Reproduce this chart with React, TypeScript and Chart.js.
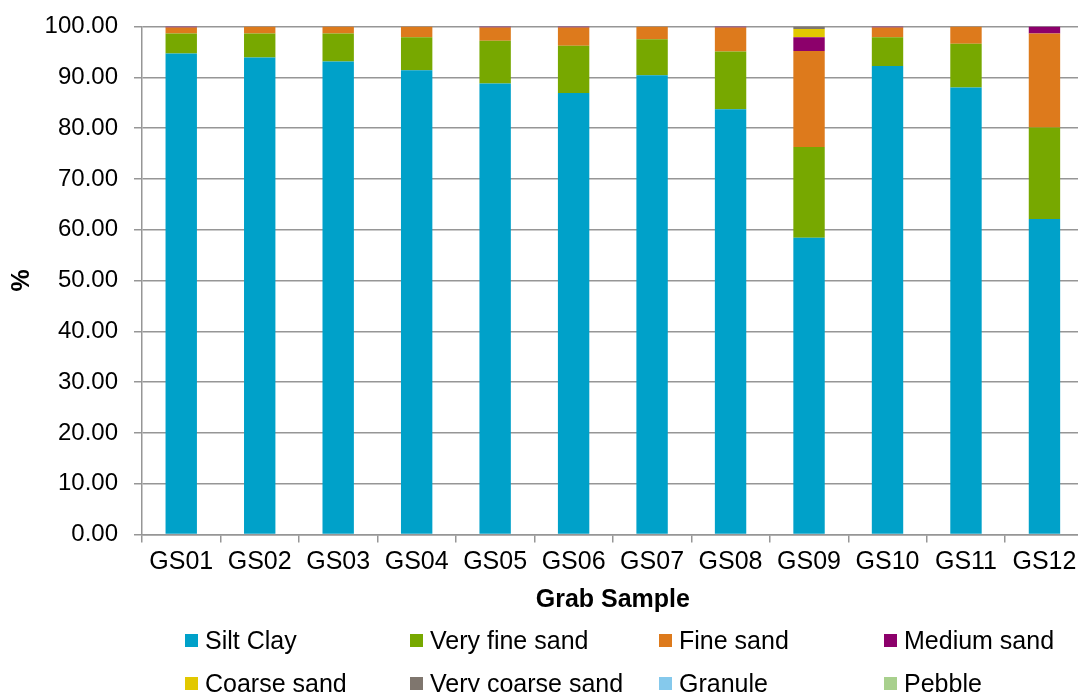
import React, { useEffect, useRef } from "react";
import { Chart, registerables } from "chart.js";
Chart.register(...registerables);

const categories = ["GS01", "GS02", "GS03", "GS04", "GS05", "GS06", "GS07", "GS08", "GS09", "GS10", "GS11", "GS12"];
const siltClay = [94.7, 93.9, 93.1, 91.4, 88.8, 86.9, 90.4, 83.7, 58.4, 92.2, 88.0, 62.1];
const veryFineSand = [3.9, 4.7, 5.5, 6.5, 8.4, 9.3, 7.1, 11.4, 17.9, 5.7, 8.6, 18.0];
const fineSand = [1.2, 1.4, 1.4, 2.1, 2.6, 3.6, 2.5, 4.7, 18.9, 1.9, 3.4, 18.5];
const mediumSand = [0.2, 0, 0, 0, 0.2, 0.2, 0, 0.2, 2.7, 0.2, 0, 1.4];
const coarseSand = [0, 0, 0, 0, 0, 0, 0, 0, 1.6, 0, 0, 0];
const veryCoarseSand = [0, 0, 0, 0, 0, 0, 0, 0, 0.5, 0, 0, 0];
const granule = [0, 0, 0, 0, 0, 0, 0, 0, 0, 0, 0, 0];
const pebble = [0, 0, 0, 0, 0, 0, 0, 0, 0, 0, 0, 0];

const seriesNames = ["Silt Clay", "Very fine sand", "Fine sand", "Medium sand", "Coarse sand", "Very coarse sand", "Granule", "Pebble"];
const seriesValues = [siltClay, veryFineSand, fineSand, mediumSand, coarseSand, veryCoarseSand, granule, pebble];
const seriesColors = ["#00A1C9", "#77A800", "#DD7A1C", "#8C006B", "#E2C800", "#7F766E", "#85C9EC", "#A8D08D"];

const FONT = "'Liberation Sans', Arial, sans-serif";
const GRID = "#969696";

const legendCols = [185, 410, 659, 884];
const legendRows = [640, 683];

export default function App() {
  const ref = useRef<HTMLCanvasElement | null>(null);
  useEffect(() => {
    if (!ref.current) return;
    const chart = new Chart(ref.current, {
      type: "bar",
      data: {
        labels: categories,
        datasets: seriesNames.map((n, i) => ({
          label: n,
          data: seriesValues[i],
          backgroundColor: seriesColors[i],
          borderWidth: 0,
          barPercentage: 0.4,
          categoryPercentage: 1.0,
        })),
      },
      options: {
        responsive: false,
        animation: false,
        devicePixelRatio: 1,
        layout: { padding: { left: 0, right: 6.3, top: 26.5, bottom: 73.5 } },
        plugins: { legend: { display: false }, tooltip: { enabled: false } },
        scales: {
          x: {
            stacked: true,
            grid: { drawOnChartArea: false, drawTicks: true, tickLength: 8, color: GRID, lineWidth: 1.5 },
            border: { color: GRID, width: 1.5 },
            ticks: { color: "#000", font: { family: FONT, size: 25 }, padding: 5, maxRotation: 0 },
            title: {
              display: true,
              text: "Grab Sample",
              color: "#000",
              font: { family: FONT, size: 25, weight: "bold" },
              padding: { top: 0, bottom: 3.5 },
            },
            afterFit: (s: any) => {
              s.height = 84;
            },
          },
          y: {
            stacked: true,
            min: 0,
            max: 100,
            grid: { drawOnChartArea: true, drawTicks: true, tickLength: 8, color: GRID, lineWidth: 1.5 },
            border: { color: GRID, width: 1.5 },
            ticks: {
              stepSize: 10,
              color: "#000",
              font: { family: FONT, size: 24, lineHeight: 1 },
              padding: 16,
              callback: (v: any) => Number(v).toFixed(2),
            },
            title: {
              display: true,
              text: "%",
              color: "#000",
              font: { family: FONT, size: 25, weight: "bold" },
              padding: { top: 7, bottom: 4 },
            },
            afterFit: (s: any) => {
              s.width = 142;
              s.paddingTop = 0;
              s.paddingBottom = 0;
            },
          },
        },
      },
    });
    return () => chart.destroy();
  }, []);

  return (
    <div
      style={{
        position: "fixed",
        left: 0,
        top: 0,
        width: 1078,
        height: 692,
        overflow: "hidden",
        background: "#fff",
      }}
    >
      <canvas ref={ref} width={1090} height={692} style={{ position: "absolute", left: 0, top: 0, width: 1090, height: 692 }} />
      {seriesNames.map((n, i) => {
        const col = legendCols[i % 4];
        const row = legendRows[Math.floor(i / 4)];
        return (
          <div
            key={n}
            style={{
              position: "absolute",
              left: col,
              top: row - 15,
              height: 30,
              display: "flex",
              alignItems: "center",
              whiteSpace: "nowrap",
              fontFamily: FONT,
              fontSize: 25,
              color: "#000",
            }}
          >
            <span style={{ display: "inline-block", width: 13, height: 13, background: seriesColors[i], marginRight: 7 }} />
            <span>{n}</span>
          </div>
        );
      })}
    </div>
  );
}
